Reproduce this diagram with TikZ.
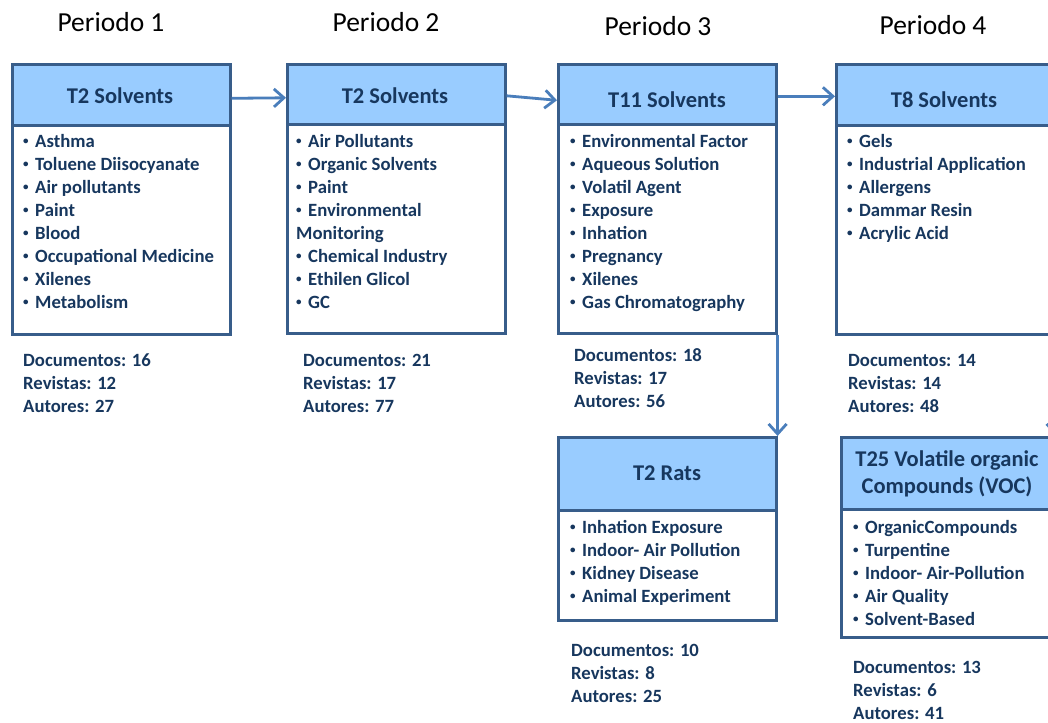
\documentclass[tikz,border=0pt]{standalone}
\usepackage{fontspec}
\setmainfont{Carlito}
\usetikzlibrary{arrows.meta,calc}
\definecolor{headfill}{HTML}{99CCFF}
\definecolor{edge}{HTML}{385D8A}
\definecolor{ink}{HTML}{17375E}
\definecolor{link}{HTML}{4A7EBB}
% small list bullet followed by the gap before the keyword
\newcommand\bul{\makebox[12pt][l]{\raisebox{2.2pt}{\fontsize{11}{11}\selectfont•}}}
\tikzset{
  head/.style={draw=edge, line width=2.6pt, fill=headfill, minimum width=218pt,
    minimum height=#1, inner sep=0pt, anchor=north west},
  body/.style={draw=edge, line width=2.6pt, fill=white, minimum width=218pt,
    minimum height=#1, inner sep=0pt, anchor=north west},
  title/.style={text=ink, font=\bfseries\fontsize{22.5}{27}\selectfont, align=center, inner sep=0pt},
  items/.style={text=ink, font=\bfseries\fontsize{18.7}{23}\selectfont, align=left, inner sep=0pt, anchor=base west},
  period/.style={text=black, font=\fontsize{27.5}{33}\selectfont, inner sep=0pt},
  flow/.style={draw=link, line width=2.8pt, -{Straight Barb[length=10pt,width=18pt,line width=2.8pt]}},
}
\begin{document}
\begin{tikzpicture}[x=1pt,y=-1pt]
\useasboundingbox (0,0) rectangle (1048,722);
\fill[white] (0,0) rectangle (1048,722);
\clip (0,0) rectangle (1048,722);

% period headings
\node[period] (p1) at (111,22) {Periodo 1};
\node[period] (p2) at (386,22) {Periodo 2};
\node[period] (p3) at (658,26) {Periodo 3};
\node[period] (p4) at (933,25) {Periodo 4};

% cluster boxes: coloured header over a white list panel
\node[head=61pt] (h1) at (11,63) {};
\node[body=209pt] (b1) at (11,124) {};
\node[head=60pt] (h2) at (286,63) {};
\node[body=209pt] (b2) at (286,123) {};
\node[head=60pt] (h3) at (557,63) {};
\node[body=209pt] (b3) at (557,123) {};
\node[head=61pt] (h4) at (835,63) {};
\node[body=209pt] (b4) at (835,124) {};
\node[head=73pt] (h5) at (557,436) {};
\node[body=110pt] (b5) at (557,509) {};
\node[head=72pt, minimum width=213pt] (h6) at (840,436) {};
\node[body=128pt, minimum width=213pt] (b6) at (840,508) {};

% box titles
\node[title] (t1) at (120,96) {T2 Solvents};
\node[title] (t2) at (395,96) {T2 Solvents};
\node[title] (t3) at (667,100) {T11 Solvents};
\node[title] (t4) at (944,100) {T8 Solvents};
\node[title] (t5) at (667,473) {T2 Rats};
\node[title] (t6) at (947,474) {T25 Volatile organic\\Compounds (VOC)};

% keyword lists (anchored at the baseline of the last line)
\node[items] (l1) at (23,308) {\bul Asthma\\\bul Toluene Diisocyanate\\\bul Air pollutants\\\bul Paint\\\bul Blood\\\bul Occupational Medicine\\\bul Xilenes\\\bul Metabolism};
\node[items] (l2) at (296,308) {\bul Air Pollutants\\\bul Organic Solvents\\\bul Paint\\\bul Environmental\\Monitoring\\\bul Chemical Industry\\\bul Ethilen Glicol\\\bul GC};
\node[items] (l3) at (570,308) {\bul Environmental Factor\\\bul Aqueous Solution\\\bul Volatil Agent\\\bul Exposure\\\bul Inhation\\\bul Pregnancy\\\bul Xilenes\\\bul Gas Chromatography};
\node[items] (l4) at (847,239) {\bul Gels\\\bul Industrial Application\\\bul Allergens\\\bul Dammar Resin\\\bul Acrylic Acid};
\node[items] (l5) at (570,602) {\bul Inhation Exposure\\\bul Indoor- Air Pollution\\\bul Kidney Disease\\\bul Animal Experiment};
\node[items] (l6) at (853,625) {\bul OrganicCompounds\\\bul Turpentine\\\bul Indoor- Air-Pollution\\\bul Air Quality\\\bul Solvent-Based};

% counts per cluster
\node[items] (s1) at (23,412) {Documentos: 16\\Revistas: 12\\Autores: 27};
\node[items] (s2) at (303,412) {Documentos: 21\\Revistas: 17\\Autores: 77};
\node[items] (s3) at (574,407) {Documentos: 18\\Revistas: 17\\Autores: 56};
\node[items] (s4) at (848,412) {Documentos: 14\\Revistas: 14\\Autores: 48};
\node[items] (s5) at (571,702) {Documentos: 10\\Revistas: 8\\Autores: 25};
\node[items] (s6) at (853,719) {Documentos: 13\\Revistas: 6\\Autores: 41};

% evolution links
\draw[flow] ($(h1.east)+(0,3.5)$) -- ($(h2.west)+(0,3.5)$);
\draw[flow] ($(h2.east)+(0,1.5)$) -- ($(h3.west)+(0,6)$);
\draw[flow] ($(h3.east)+(0,2)$) -- ($(h4.west)+(0,1.5)$);
\draw[flow] (b3.south east) -- (h5.north east);
\draw[flow] (b4.south east) -- (h6.north east);
\end{tikzpicture}
\end{document}
